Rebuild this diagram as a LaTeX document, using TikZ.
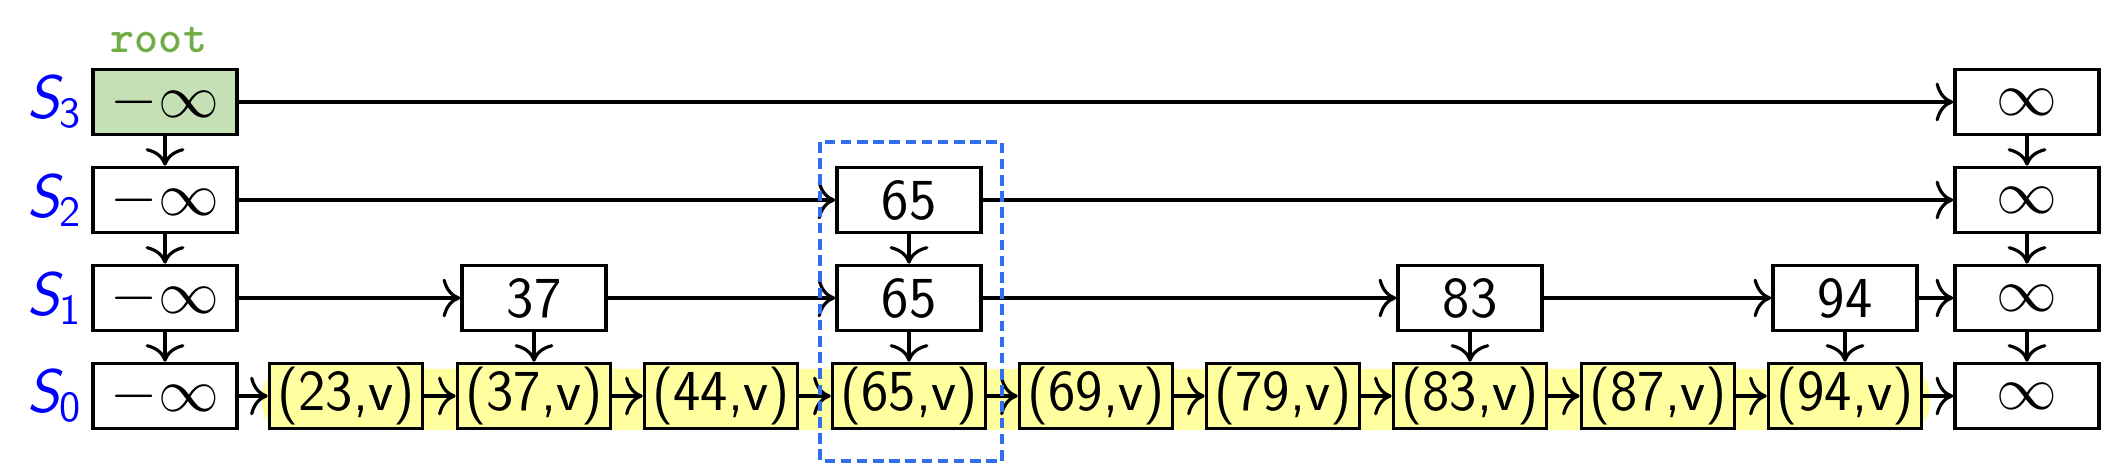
\documentclass[tikz,border=0pt]{standalone}
\usepackage{tikz}
\usetikzlibrary{arrows.meta}
\definecolor{rootfill}{RGB}{197,224,180}
\definecolor{rootink}{RGB}{112,173,71}
\definecolor{hilite}{RGB}{255,255,160}
\definecolor{dashblue}{RGB}{51,110,240}

\begin{document}
\begin{tikzpicture}[x=0.01cm,y=-0.01cm,
  box/.style={draw=black,line width=1pt,rectangle,minimum width=1.44cm,minimum height=0.65cm,inner sep=0pt,font=\fontsize{16.5}{19}\selectfont\sffamily},
  pair/.style={box,fill=hilite,minimum width=1.53cm},
  link/.style={line width=0.9pt,-{Computer Modern Rightarrow[length=5pt,width=11pt]}},
  level/.style={font=\fontsize{17.5}{20}\selectfont\sffamily,text=blue}]
\useasboundingbox (0,0) rectangle (2126,465);

% highlighter band behind the bottom list
\fill[hilite,rounded corners=0.25cm] (262,369) rectangle (1930,430);

\node[level] (s3) at (55,102) {{\slshape S}\textsubscript{3}};
\node[level] (s2) at (55,200) {{\slshape S}\textsubscript{2}};
\node[level] (s1) at (55,298) {{\slshape S}\textsubscript{1}};
\node[level] (s0) at (55,396) {{\slshape S}\textsubscript{0}};

\node[font=\fontsize{13}{15}\selectfont\ttfamily\bfseries,text=rootink,inner sep=0pt] (root) at (159,40) {root};

% left and right sentinels
\node[box,fill=rootfill] (ninf3) at (165,102) {$-\infty$};
\node[box] (ninf2) at (165,200) {$-\infty$};
\node[box] (ninf1) at (165,298) {$-\infty$};
\node[box] (ninf0) at (165,396) {$-\infty$};
\node[box] (pinf3) at (2027,102) {$\infty$};
\node[box] (pinf2) at (2027,200) {$\infty$};
\node[box] (pinf1) at (2027,298) {$\infty$};
\node[box] (pinf0) at (2027,396) {$\infty$};

% upper levels
\node[box] (k65b) at (909,200) {65};
\node[box] (k37a) at (534,298) {37};
\node[box] (k65a) at (909,298) {65};
\node[box] (k83a) at (1470,298) {83};
\node[box] (k94a) at (1845,298) {94};

% bottom list
\node[pair] (b23) at (346,396) {(23,v)};
\node[pair] (b37) at (534,396) {(37,v)};
\node[pair] (b44) at (721,396) {(44,v)};
\node[pair] (b65) at (909,396) {(65,v)};
\node[pair] (b69) at (1096,396) {(69,v)};
\node[pair] (b79) at (1283,396) {(79,v)};
\node[pair] (b83) at (1470,396) {(83,v)};
\node[pair] (b87) at (1658,396) {(87,v)};
\node[pair] (b94) at (1845,396) {(94,v)};

% level links
\draw[link] (ninf3) -- (pinf3);
\draw[link] (ninf2) -- (k65b);
\draw[link] (k65b) -- (pinf2);
\draw[link] (ninf1) -- (k37a);
\draw[link] (k37a) -- (k65a);
\draw[link] (k65a) -- (k83a);
\draw[link] (k83a) -- (k94a);
\draw[link] (k94a) -- (pinf1);
\draw[link] (ninf0) -- (b23);
\draw[link] (b23) -- (b37);
\draw[link] (b37) -- (b44);
\draw[link] (b44) -- (b65);
\draw[link] (b65) -- (b69);
\draw[link] (b69) -- (b79);
\draw[link] (b79) -- (b83);
\draw[link] (b83) -- (b87);
\draw[link] (b87) -- (b94);
\draw[link] (b94) -- (pinf0);

% down links
\draw[link] (ninf3) -- (ninf2);
\draw[link] (ninf2) -- (ninf1);
\draw[link] (ninf1) -- (ninf0);
\draw[link] (pinf3) -- (pinf2);
\draw[link] (pinf2) -- (pinf1);
\draw[link] (pinf1) -- (pinf0);
\draw[link] (k65b) -- (k65a);
\draw[link] (k65a) -- (b65);
\draw[link] (k37a) -- (b37);
\draw[link] (k83a) -- (b83);
\draw[link] (k94a) -- (b94);

\draw[dashblue,line width=1pt,dash pattern=on 3pt off 1.6pt] (820,142) rectangle (1002,461);
\end{tikzpicture}
\end{document}
